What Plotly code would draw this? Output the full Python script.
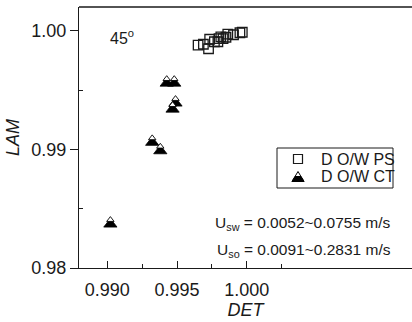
import plotly.graph_objects as go

# ---- data ----
ps_det = [0.99651, 0.99689, 0.99726, 0.99734, 0.99768, 0.99793, 0.99801,
          0.99814, 0.99830, 0.99851, 0.99864, 0.99905, 0.99951, 0.99968]
ps_lam = [0.99878, 0.99886, 0.99848, 0.99928, 0.99907, 0.99907, 0.99933,
          0.99949, 0.99933, 0.99945, 0.99971, 0.99966, 0.99983, 0.99987]
ct_det = [0.99022, 0.99322, 0.99380, 0.99468, 0.99489, 0.99426, 0.99480]
ct_lam = [0.98399, 0.99088, 0.99017, 0.99368, 0.99419, 0.99587, 0.99587]

series_names = ["D O/W PS", "D O/W CT"]
x_ticks = [0.990, 0.995, 1.000]
x_ticktext = ["0.990", "0.995", "1.000"]
y_ticks = [0.98, 0.99, 1.00]
y_ticktext = ["0.98", "0.99", "1.00"]

# ---- layout geometry ----
W, H = 412, 322
ML, MR, MT, MB = 79, 0, 7, 54
x_range = [0.98797, 1.01185]
y_range = [0.98, 1.002]
plot_w = W - ML - MR
plot_h = H - MT - MB
dy_per_px = (y_range[1] - y_range[0]) / plot_h


def px(xp):
    return (xp - ML) / plot_w


def py(yp):
    return (H - MB - yp) / plot_h


tri_size = 11.5
r = tri_size / 2
k = 0.56  # relative size of the white upper part
# plotly triangle-up: visual centre lies 0.616 r above the data point
centre_fix = 0.616 * r * dy_per_px
ct_y_plot = [v - centre_fix for v in ct_lam]
# upper (white) part: smaller triangle sharing the apex
ct_y_top = [v + 1.732 * r * (1 - k) * dy_per_px for v in ct_y_plot]

FONT = "Liberation Sans, Arial, sans-serif"
INK = "#1a1a1a"

fig = go.Figure()
fig.add_trace(go.Scatter(
    x=ps_det, y=ps_lam, mode="markers", name=series_names[0], showlegend=False,
    marker=dict(symbol="square-open", size=9.5, color=INK, line=dict(width=1.3, color=INK)),
))
fig.add_trace(go.Scatter(
    x=ct_det, y=ct_y_plot, mode="markers", name=series_names[1], showlegend=False,
    marker=dict(symbol="triangle-up", size=tri_size, color="black",
                line=dict(width=0.8, color="black")),
))
fig.add_trace(go.Scatter(
    x=ct_det, y=ct_y_top, mode="markers", showlegend=False, hoverinfo="skip",
    marker=dict(symbol="triangle-up", size=tri_size * k, color="white",
                line=dict(width=0.9, color="black")),
))

# ---- hand-drawn legend (half-filled triangle like the reference) ----
leg_sym_x = px(298)
leg_rows = [py(159), py(177)]
shapes = [
    dict(type="line", xref="paper", yref="paper", x0=0, x1=1, y0=1, y1=1,
         line=dict(color=INK, width=1.3)),
    dict(type="rect", xref="paper", yref="paper", x0=px(277), x1=px(393),
         y0=py(188), y1=py(148), line=dict(color=INK, width=1), fillcolor="white",
         layer="above"),
    dict(type="rect", xref="paper", yref="paper", xsizemode="pixel", ysizemode="pixel",
         xanchor=leg_sym_x, yanchor=leg_rows[0], x0=-4.5, x1=4.5, y0=-4.5, y1=4.5,
         line=dict(color=INK, width=1.2), layer="above"),
    dict(type="path", xref="paper", yref="paper", xsizemode="pixel", ysizemode="pixel",
         xanchor=leg_sym_x, yanchor=leg_rows[1],
         path="M-6,-4.5 L6,-4.5 L0,5.5 Z", fillcolor="white",
         line=dict(color="black", width=1), layer="above"),
    dict(type="path", xref="paper", yref="paper", xsizemode="pixel", ysizemode="pixel",
         xanchor=leg_sym_x, yanchor=leg_rows[1],
         path="M-6,-4.5 L6,-4.5 L3,0.5 L-3,0.5 Z", fillcolor="black",
         line=dict(color="black", width=1), layer="above"),
]

annotations = [
    dict(text=series_names[i], xref="paper", yref="paper", x=px(319), y=leg_rows[i],
         xanchor="left", yanchor="middle", showarrow=False,
         font=dict(size=16, color=INK))
    for i in range(2)
] + [
    dict(text="45<sup>o</sup>", xref="paper", yref="paper", x=px(108), y=py(37),
         xanchor="left", yanchor="middle", showarrow=False,
         font=dict(size=16, color=INK)),
    dict(text="U<sub>sw</sub> = 0.0052~0.0755 m/s", xref="paper", yref="paper",
         x=px(393), y=py(223), xanchor="right", yanchor="middle", showarrow=False,
         font=dict(size=15.5, color=INK)),
    dict(text="U<sub>so</sub> = 0.0091~0.2831 m/s", xref="paper", yref="paper",
         x=px(393), y=py(250), xanchor="right", yanchor="middle", showarrow=False,
         font=dict(size=15.5, color=INK)),
]

fig.update_layout(
    width=W, height=H,
    margin=dict(l=ML, r=MR, t=MT, b=MB),
    paper_bgcolor="white", plot_bgcolor="white",
    font=dict(family=FONT, size=16, color=INK),
    showlegend=False,
    xaxis=dict(
        range=x_range, tickvals=x_ticks, ticktext=x_ticktext,
        showgrid=False, zeroline=False, showline=True, linecolor=INK, linewidth=1.3,
        ticks="inside", ticklen=7, tickwidth=1.2, tickcolor=INK,
        ticklabelstandoff=5,
        minor=dict(tickvals=[0.9925, 0.9975, 1.0025], ticks="inside", ticklen=4,
                   tickwidth=1.2, tickcolor=INK),
        title=dict(text="<i>DET</i>", font=dict(size=18), standoff=4),
        tickfont=dict(size=18),
    ),
    yaxis=dict(
        range=y_range, tickvals=y_ticks, ticktext=y_ticktext,
        showgrid=False, zeroline=False, showline=True, linecolor=INK, linewidth=1.3,
        ticks="outside", ticklen=8, tickwidth=1.2, tickcolor=INK,
        minor=dict(tickvals=[0.985, 0.995], ticks="inside", ticklen=4,
                   tickwidth=1.2, tickcolor=INK),
        title=dict(text="<i>LAM</i>", font=dict(size=18), standoff=6),
        tickfont=dict(size=18),
    ),
    shapes=shapes,
    annotations=annotations,
)

fig.write_html("out.html")
